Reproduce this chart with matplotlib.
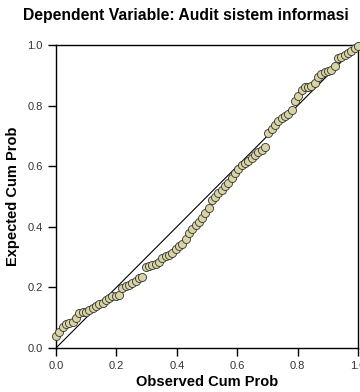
import matplotlib
matplotlib.use('Agg')
import matplotlib.pyplot as plt

plt.rcParams['font.family'] = ['Liberation Sans', 'DejaVu Sans']

title = 'Dependent Variable: Audit sistem informasi'
x_label = 'Observed Cum Prob'
y_label = 'Expected Cum Prob'
ticks = [0.0, 0.2, 0.4, 0.6, 0.8, 1.0]
tick_labels = ['0.0', '0.2', '0.4', '0.6', '0.8', '1.0']

observed = [0.000, 0.011, 0.022, 0.033, 0.044, 0.055, 0.066, 0.077, 0.088, 0.099,
            0.110, 0.121, 0.132, 0.143, 0.154, 0.165, 0.176, 0.187, 0.198, 0.209,
            0.220, 0.231, 0.242, 0.253, 0.264, 0.275, 0.286, 0.297, 0.308, 0.319,
            0.330, 0.341, 0.352, 0.363, 0.374, 0.385, 0.396, 0.407, 0.418, 0.429,
            0.440, 0.451, 0.462, 0.473, 0.484, 0.495, 0.505, 0.516, 0.527, 0.538,
            0.549, 0.560, 0.571, 0.582, 0.593, 0.604, 0.615, 0.626, 0.637, 0.648,
            0.659, 0.670, 0.681, 0.692, 0.703, 0.714, 0.725, 0.736, 0.747, 0.758,
            0.769, 0.780, 0.791, 0.802, 0.813, 0.824, 0.835, 0.846, 0.857, 0.868,
            0.879, 0.890, 0.901, 0.912, 0.923, 0.934, 0.945, 0.956, 0.967, 0.978,
            0.989, 1.000]
expected = [0.040, 0.054, 0.070, 0.078, 0.082, 0.086, 0.098, 0.115, 0.120, 0.120,
            0.125, 0.131, 0.137, 0.145, 0.150, 0.159, 0.165, 0.170, 0.172, 0.175,
            0.198, 0.203, 0.207, 0.213, 0.222, 0.230, 0.234, 0.268, 0.271, 0.273,
            0.278, 0.284, 0.298, 0.303, 0.306, 0.315, 0.327, 0.335, 0.343, 0.360,
            0.380, 0.393, 0.405, 0.417, 0.430, 0.447, 0.463, 0.488, 0.498, 0.510,
            0.522, 0.535, 0.544, 0.562, 0.577, 0.590, 0.604, 0.612, 0.618, 0.626,
            0.638, 0.648, 0.655, 0.663, 0.708, 0.722, 0.735, 0.750, 0.760, 0.766,
            0.772, 0.786, 0.815, 0.832, 0.850, 0.862, 0.863, 0.865, 0.873, 0.893,
            0.903, 0.911, 0.914, 0.918, 0.932, 0.958, 0.962, 0.967, 0.973, 0.980,
            0.990, 0.997]

fig = plt.figure(figsize=(3.6, 3.92), dpi=100)
ax = fig.add_axes([56 / 360, 44 / 392, 302 / 360, 303 / 392])

ax.plot([0, 1], [0, 1], color='black', linewidth=0.8, zorder=2)
ax.plot(observed, expected, linestyle='none', marker='o', markersize=5.8,
        markerfacecolor='#d9d4a3', markeredgecolor='#303030',
        markeredgewidth=0.6, zorder=3, clip_on=False)

ax.set_xlim(0, 1)
ax.set_ylim(0, 1)
ax.set_xticks(ticks)
ax.set_yticks(ticks)
ax.set_xticklabels(tick_labels)
ax.set_yticklabels(tick_labels)
ax.tick_params(direction='out', length=5.5, width=1, labelsize=8,
               colors='black', labelcolor='#333333', pad=4)
for s in ax.spines.values():
    s.set_linewidth(1.0)

ax.set_xlabel(x_label, fontsize=10.5, fontweight='bold', labelpad=3)
ax.set_ylabel(y_label, fontsize=10.5, fontweight='bold', labelpad=5)
fig.suptitle(title, fontsize=11.3, fontweight='bold', x=0.515, y=0.98)

fig.savefig('out.png', dpi=100)
